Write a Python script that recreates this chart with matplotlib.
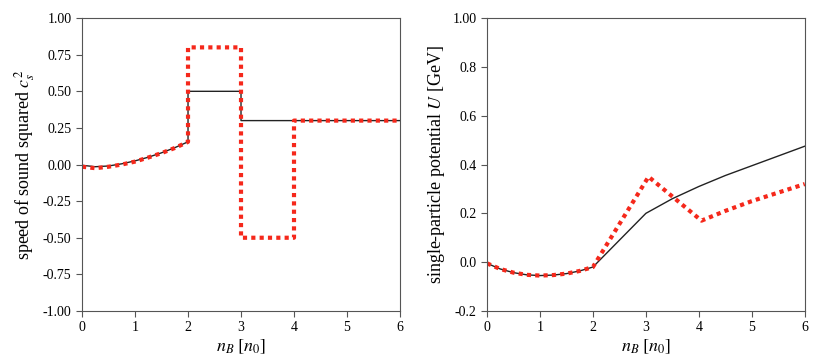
import matplotlib.pyplot as plt

plt.rcParams['font.family'] = ['Liberation Serif', 'DejaVu Serif']
plt.rcParams['mathtext.fontset'] = 'stix'

# speed of sound squared
nb_low = [0.0, 0.25, 0.5, 0.75, 1.0, 1.25, 1.5, 1.75, 2.0]
cs2_low_black = [-0.005, -0.015, -0.01, 0.005, 0.025, 0.05, 0.08, 0.115, 0.155]
cs2_low_red = [-0.015, -0.025, -0.015, 0.0, 0.02, 0.048, 0.078, 0.113, 0.155]
nb_high_black = [2.0, 2.0, 3.0, 3.0, 6.0]
cs2_high_black = [0.155, 0.5, 0.5, 0.3, 0.3]
nb_high_red = [2.0, 2.0, 3.0, 3.0, 4.0, 4.0, 6.0]
cs2_high_red = [0.155, 0.8, 0.8, -0.5, -0.5, 0.3, 0.3]

# single-particle potential
nb_u = [0.0, 0.25, 0.5, 0.75, 1.0, 1.25, 1.5, 1.75, 2.0]
u_low = [-0.005, -0.028, -0.043, -0.052, -0.055, -0.053, -0.047, -0.036, -0.02]
nb_u_black = [2.0, 3.0, 3.5, 4.0, 4.5, 5.0, 5.5, 6.0]
u_black = [-0.02, 0.2, 0.26, 0.31, 0.355, 0.395, 0.435, 0.475]
nb_u_red = [2.0, 3.05, 4.05, 4.5, 5.0, 5.5, 6.0]
u_red = [-0.02, 0.35, 0.17, 0.21, 0.25, 0.285, 0.32]

red = '#f5281b'
frame = '#555555'

fig = plt.figure(figsize=(8.22, 3.62), dpi=100)
ax1 = fig.add_axes([0.0998, 0.141, 0.3868, 0.809])
ax2 = fig.add_axes([0.5925, 0.141, 0.3865, 0.809])

ax1.plot(nb_low + nb_high_black[1:], cs2_low_black + cs2_high_black[1:],
         color='#222222', linewidth=1.0)
ax1.plot(nb_low + nb_high_red[1:], cs2_low_red + cs2_high_red[1:],
         color=red, linewidth=3.0, linestyle=(0, (1, 1)))
ax1.set_xlim(0, 6)
ax1.set_ylim(-1, 1)
yt1 = [-1.0, -0.75, -0.5, -0.25, 0.0, 0.25, 0.5, 0.75, 1.0]
ax1.set_yticks(yt1)
ax1.set_yticklabels(['%.2f' % v for v in yt1])
ax1.set_ylabel(r'speed of sound squared $c_s^2$', fontsize=13, labelpad=4)

ax2.plot(nb_u + nb_u_black[1:], u_low + u_black[1:], color='#222222', linewidth=1.0)
ax2.plot(nb_u + nb_u_red[1:], u_low + u_red[1:], color=red, linewidth=3.0,
         linestyle=(0, (1, 1)))
ax2.set_xlim(0, 6)
ax2.set_ylim(-0.2, 1.0)
ax2.set_yticks([-0.2, 0.0, 0.2, 0.4, 0.6, 0.8, 1.0])
ax2.set_yticklabels(['-0.2', '0.0', '0.2', '0.4', '0.6', '0.8', '1.00'])
ax2.set_ylabel(r'single-particle potential $U$ [GeV]', fontsize=13, labelpad=4)

for ax in (ax1, ax2):
    ax.set_xticks(range(7))
    ax.set_xlabel(r'$n_B\ [n_0]$', fontsize=13, labelpad=2)
    ax.tick_params(direction='out', length=4, width=0.8, labelsize=10,
                   color=frame, top=False, right=False)
    for s in ax.spines.values():
        s.set_color(frame)
        s.set_linewidth(0.8)

plt.savefig('out.png', dpi=100)
